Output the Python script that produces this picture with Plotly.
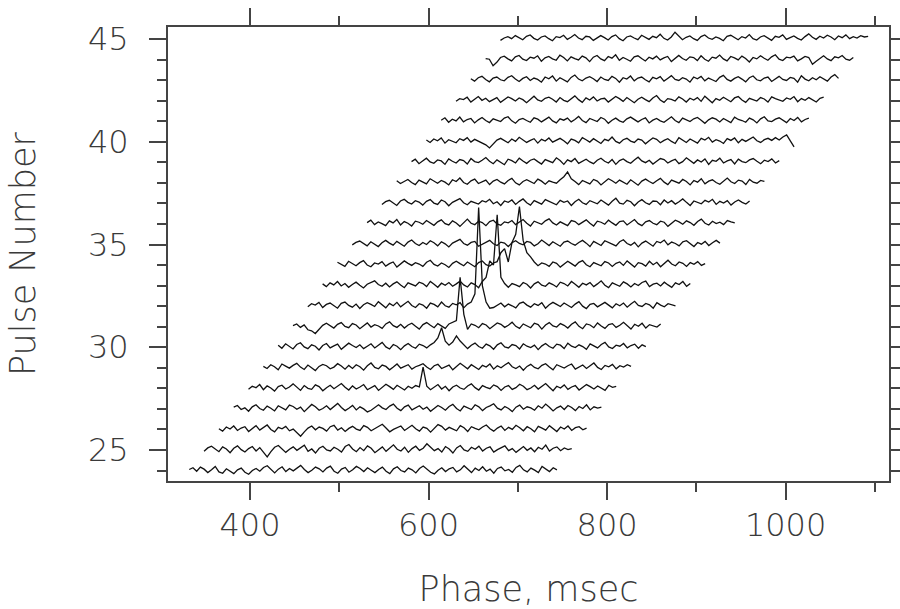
import plotly.graph_objects as go

# Pulse numbers and the phase (msec) where each pulse's window starts
pulse_numbers = list(range(24, 46))
window_start_ms = [332.0, 348.6, 365.2, 381.8, 398.4, 415.0, 431.6, 448.2, 464.8, 481.4, 498.0,
                   514.6, 531.2, 547.8, 564.4, 581.0, 597.6, 614.2, 630.8, 647.4, 664.0, 680.6]
sample_step_ms = 4.16
# intensity per sample, in units of 1/60 of the pulse-number spacing (offset from the pulse's baseline)
p24 = [3, 8, -2, 10, 4, -6, 2, 12, -4, -8, 5, -3, -9, 2, 7, -5, -11, 0, 6, -2,
       9, 14, 2, -7, 4, 11, -3, 6, -1, 8, 15, 3, -6, 1, 10, 5, -4, 7, 13, -2,
       -8, 4, 9, -5, 2, 12, 6, -3, 8, 1, -6, 3, 10, -2, -9, 5, 11, 0, -4, 7,
       2, -7, 6, 13, 4, -5, -10, 1, 8, -3, 5, 9, -4, 2, 14, 3, -6, 7, 0, 11,
       -2, 4, -8, 6, 10, -1, 3, -5, 9, 15, 2, -4, 7, 1, -6, 12, 4, -3, 8, 2]
p25 = [-4, 6, 11, 2, -5, 9, 3, -8, 5, 12, 1, -6, 4, 10, -3, 7, -6, -20, -5, 8,
       13, 4, -7, 2, 9, -1, 6, 14, -4, 3, -9, 5, 11, 0, -3, 8, 2, -6, 10, 16,
       3, -5, 7, -2, 12, 5, -8, 1, 9, -4, 6, 15, 2, -3, 8, -7, 4, 11, -1, 5,
       18, 7, -2, 4, -6, 10, 3, -9, 6, 13, 0, -4, 8, 2, 11, -3, 5, 9, -6, 1,
       7, 12, -2, 4, -7, 3, 10, -1, 6, -5, 8, 2, 14, -3, 5, 9, -2, 6, 1, 4]
p26 = [2, -5, 7, 1, 10, -3, 4, 8, -6, 3, 11, -2, 5, 13, 0, -7, 6, 2, 9, -4,
       1, -9, -20, -7, 4, 10, -1, 7, 3, -5, 8, 12, -2, 5, -6, 3, 9, 1, -3, 11,
       6, -4, 2, 8, 15, 4, -7, 0, 6, 10, -3, 5, 12, 2, -5, 7, 3, -8, 4, 14,
       9, -2, 6, 1, -4, 11, 5, -6, 8, 3, -1, 7, 13, 2, -5, 4, 10, -3, 6, 0,
       12, 5, -4, 8, 2, -7, 9, 4, -2, 11, 3, -6, 7, 1, 10, -3, 5, 8, -1, 4]
p27 = [5, 10, -2, 3, -7, 6, 12, 1, -4, 8, 2, -6, 9, 4, -3, 11, 7, -1, 5, -8,
       3, 13, 6, -4, 1, 9, -2, 7, 16, 4, -5, 2, 10, -3, 6, 0, -9, -4, 5, 12,
       3, -2, 8, 14, 2, -5, 6, 11, -3, 4, 9, -1, 5, -7, 2, 10, 4, -4, 7, 13,
       1, -6, 8, 3, -2, 12, 6, -5, 4, 9, 15, 2, -3, 7, 1, -8, 5, 11, -1, 6,
       3, -4, 9, 2, 14, 5, -6, 3, 8, -2, 10, 4, -5, 7, 1, 12, -3, 6, 2, 5]
p28 = [-3, 6, 2, 11, -4, 7, 1, -8, 5, 9, -2, 4, 13, 3, -6, 8, 0, -3, 10, 5,
       -7, 2, 9, -1, 6, 14, 3, -5, 7, -2, 4, 11, -4, 1, 8, -6, 3, 12, 5, -3,
       9, 2, -5, 6, 0, 8, 4, 62, 6, -4, 3, 11, -2, 6, -7, 4, 9, 1, -3, 7,
       13, 2, -5, 8, 3, -1, 10, 5, -6, 4, 8, -3, 2, 12, 6, -4, 1, 9, -2, 5,
       14, 3, -7, 6, 1, 10, -3, 4, 8, -5, 2, 11, 5, -2, 7, 0, -6, 9, 3, 6]
p29 = [4, -2, 9, 3, -6, 11, 5, -1, 7, 13, 2, -5, 8, 1, -8, 4, 10, 6, -3, 2,
       12, 5, -4, 7, -2, 9, 3, -7, 6, 14, 1, -3, 8, 4, -6, 2, 11, -1, 5, 9,
       -4, 3, 7, 12, 2, -5, 6, 10, -2, 4, 8, -6, 3, 13, 5, -3, 9, 1, -5, 7,
       2, 11, -4, 6, 0, 8, 15, 3, -2, 5, -7, 4, 10, 1, -3, 7, 12, 2, -6, 9,
       4, -1, 6, 11, -4, 3, 8, -2, 5, 14, 1, -5, 7, 3, 10, -3, 6, 2, 9, 4]
p30 = [6, -3, 10, 2, -5, 8, 13, 1, -4, 7, 3, -8, 5, 11, -2, 4, 9, -6, 2, 12,
       5, -1, 7, -4, 3, 10, -2, 6, 14, 1, -5, 8, 3, -7, 4, 11, 2, -3, 9, 5,
       -2, 7, 14, 27, 57, 18, 6, 15, 33, 18, 8, -4, 6, 12, 2, -3, 9, 4, -6, 7,
       13, 1, -2, 8, 5, -5, 10, 3, -1, 6, -7, 4, 11, 2, -3, 9, 6, -4, 12, 3,
       -1, 7, 2, -6, 10, 5, -2, 8, 14, 1, -4, 6, 3, 11, -2, 5, 9, -3, 7, 2]
p31 = [3, 8, -2, 5, -9, -12, -20, -8, 4, 10, 2, -4, 7, 12, 1, -3, 9, 5, -6, 3,
       11, -1, 6, 2, -5, 8, 14, 3, -2, 7, -4, 5, 10, 1, -7, 6, 12, 4, -3, 9,
       2, -5, 8, 12, 18, 144, 36, -8, 8, 4, -3, 9, 5, -6, 2, 11, 7, -2, 4, 13,
       1, -5, 8, 3, -3, 10, 6, -7, 5, 12, 2, -1, 9, 4, -4, 7, 14, 1, -6, 8,
       5, -3, 11, 2, -5, 6, 9, -2, 4, 13, 3, -7, 7, 1, 10, -4, 6, 2, -1, 8]
p32 = [-2, 7, 3, 11, -4, 5, 9, 1, -6, 8, 12, 2, -3, 6, -7, 4, 10, 5, -1, 13,
       3, -5, 8, 1, 11, -2, 6, 14, 2, -4, 7, 3, -6, 9, 5, -2, 12, 1, -3, 8,
       4, 10, -5, 6, 12, 36, 288, 60, 12, -6, -4, 3, 9, -2, 6, 1, -5, 8, 12, 3,
       -3, 7, 2, 10, -6, 4, 11, 5, -1, 9, 2, -4, 6, 13, 0, -7, 5, 8, -2, 4,
       11, 3, -5, 7, 1, 9, -3, 6, 14, 2, -1, 8, 4, -6, 10, 3, -2, 7, 5, 1]
p33 = [5, -3, 8, 2, 12, -1, 6, -5, 3, 10, 1, -7, 4, 9, 14, 3, -2, 7, -4, 5,
       11, 2, -6, 8, 3, -1, 10, 6, -3, 12, 4, -5, 7, 1, 9, -2, 5, 13, 2, -4,
       8, 3, -6, 12, 24, 72, 60, 207, 24, 6, -5, 6, 2, -3, 9, 4, -7, 5, 11, 1,
       -2, 8, 3, -4, 10, 6, -1, 12, 4, -5, 7, 2, 9, -3, 5, 14, 1, -6, 8, 3,
       -2, 11, 5, -4, 6, 0, 9, 13, -3, 4, 7, -1, 10, 2, -5, 8, 3, 12, -2, 6]
p34 = [8, 2, -4, 11, 5, -2, 7, 13, 0, -5, 6, 3, 10, -3, 4, 9, -6, 2, 12, 5,
       -1, 7, 3, -4, 8, 14, 2, -3, 6, 1, -7, 5, 11, 4, -2, 9, 3, -5, 7, 12,
       1, -3, 6, 10, 36, 48, 9, 66, 90, 171, 72, 36, 24, 9, -2, 6, 3, -4, 9, 5,
       -6, 2, 11, 4, -3, 8, 13, 1, -5, 7, 3, -2, 10, 6, -4, 5, 9, -1, 12, 2,
       -6, 7, 4, -3, 11, 1, 8, -5, 6, 14, 3, -2, 9, 5, -4, 7, 2, 10, -1, 4]
p35 = [-1, 6, 10, 3, -4, 8, 2, -6, 5, 12, 4, -2, 9, 1, -5, 7, 13, 3, -3, 6,
       0, 11, 5, -4, 8, 2, -7, 4, 10, 15, 3, -2, 6, 9, -5, 1, 8, 12, 2, -3,
       7, 4, -6, 5, 11, 3, -1, 9, 6, -4, 2, 13, 5, -3, 8, 1, -5, 7, 10, 3,
       -2, 6, 12, 4, -6, 9, 2, -3, 11, 5, 1, -4, 8, 14, 3, -2, 6, -7, 4, 10,
       2, -5, 9, 5, 13, -1, 7, 3, -4, 8, 11, 2, -6, 6, 1, 9, -3, 5, 12, 4]
p36 = [4, 11, -2, 6, 1, -5, 9, 3, 13, -3, 7, 2, -6, 8, 5, -1, 10, 4, -4, 6,
       12, 1, -3, 9, 3, -7, 5, 14, 2, -2, 8, 4, -5, 7, 11, 0, -4, 6, 3, 10,
       -2, 5, 13, 2, -6, 8, 4, -1, 9, 15, 3, -3, 6, 1, -5, 10, 7, -2, 4, 12,
       2, -6, 8, 5, -1, 11, 3, -4, 7, 9, -3, 4, 13, 1, -5, 6, 10, 2, -2, 8,
       5, -7, 3, 11, 6, -1, 9, 4, -4, 7, 14, 2, -3, 8, 1, 5, -2, 10, 6, 3]
p37 = [-3, 5, 9, 2, -6, 7, 12, 3, -2, 8, 4, -5, 6, 11, 1, -3, 10, 5, -7, 3,
       9, 14, 2, -4, 6, 1, -2, 8, 4, 12, -1, 5, -6, 7, 3, 10, -3, 6, 13, 2,
       -5, 8, 4, -2, 11, 6, 1, -4, 9, 3, 7, -6, 5, 12, 2, -3, 8, 4, -1, 10,
       3, -5, 6, 15, 1, -2, 9, 5, -7, 4, 11, 2, -3, 7, 6, -4, 10, 1, 8, -2,
       5, 13, 3, -6, 7, 2, -1, 9, 4, 12, -3, 6, 1, 8, -5, 4, 10, 3, -2, 7]
p38 = [6, -2, 4, 10, 1, -5, 8, 3, -3, 12, 5, -1, 7, 2, -6, 9, 4, 14, 1, -4,
       6, 11, -2, 3, 8, -5, 5, 10, 2, -3, 7, 13, 0, -6, 4, 9, 3, -2, 11, 5,
       -4, 6, 2, -1, 9, 18, 32, 12, 4, -5, 7, 3, -3, 10, 5, -6, 2, 12, 6, -1,
       8, 3, -4, 9, 1, -7, 5, 11, 4, -2, 6, 13, 2, -5, 8, 3, -1, 10, 4, -6,
       7, 2, 12, -3, 5, 9, 1, -4, 6, 14, 3, -2, 8, 5, -5, 10, 2, -1, 7, 4]
p39 = [2, 9, -4, 5, 12, 1, -3, 7, 4, -6, 10, 3, -2, 8, 5, -5, 11, 2, -1, 6,
       14, 3, -4, 7, 1, -7, 9, 5, -2, 12, 4, -3, 6, 10, 2, -5, 8, 3, -1, 13,
       5, -6, 7, 2, 11, -3, 4, 9, 1, -4, 6, 12, 3, -2, 8, -6, 5, 10, 2, -3,
       7, 15, 4, -1, 6, -5, 3, 11, 8, -2, 4, 9, -4, 2, 13, 5, -3, 7, 1, 10,
       -6, 6, 3, 12, -2, 4, 8, -5, 9, 2, -1, 7, 11, 3, -4, 6, 2, 10, -2, 5]
p40 = [5, -2, 8, 3, 11, -4, 6, 1, -3, 9, 4, 12, -1, 7, 2, -5, -9, -18, -6, 5,
       10, 3, -3, 8, 1, 13, 6, -2, 4, 9, -4, 7, 2, 11, -1, 5, 10, 3, -6, 8,
       4, -3, 12, 6, -1, 9, 2, -5, 7, 3, 14, 1, -4, 6, 10, 2, -2, 8, 5, -6,
       3, 11, 7, -3, 4, 9, 1, -5, 12, 6, -2, 8, 3, -4, 10, 5, 13, -1, 6, 2,
       -5, 9, 4, 11, -3, 7, 1, 8, 14, 3, -2, 6, 10, 4, 12, 5, 14, 20, 3, -15]
p41 = [3, 10, -3, 6, 1, 12, -2, 5, 8, -5, 4, 11, 2, -4, 7, 3, -1, 9, 13, 1,
       -6, 5, 8, 2, -3, 10, 6, -2, 4, 12, 1, -5, 7, 3, 9, -2, 5, 14, 2, -4,
       8, 4, -1, 11, 6, -6, 3, 9, 1, -3, 7, 12, 4, -2, 5, 10, -5, 3, 8, 1,
       -3, 6, 13, 2, -4, 9, 5, -1, 7, 11, 3, -6, 4, 10, 6, -2, 8, 1, -4, 12,
       5, 2, -3, 9, 4, -5, 7, 13, 1, -1, 6, 10, 3, -4, 8, 2, 11, -2, 5, 9]
p42 = [-2, 6, 3, 10, -4, 5, 12, 1, 7, -3, 4, 9, -5, 2, 11, 6, -1, 8, 3, -6,
       5, 13, 2, -2, 7, 10, 4, -4, 9, 1, -3, 6, 14, 3, -5, 8, 2, 11, -1, 5,
       7, -4, 3, 12, 6, -2, 9, 1, -6, 4, 10, 3, -3, 8, 15, 2, -5, 6, 4, -1,
       11, 5, -4, 7, 2, 9, -2, 13, 3, -6, 6, 1, 10, 4, -3, 8, 12, 2, -5, 7,
       3, -1, 9, 5, -4, 11, 6, 2, -2, 8, 4, 12, -3, 6, 1, 9, 3, -4, 7, 10]
p43 = [4, -3, 7, 11, 2, -5, 6, 9, 1, -2, 8, 13, 3, -4, 5, 10, -1, 6, 2, -6,
       9, 4, 12, -3, 7, 1, -5, 8, 15, 3, -2, 6, 10, 4, -4, 9, 2, -1, 11, 5,
       -6, 7, 3, 12, -2, 6, 9, 1, -5, 8, 4, 10, -3, 5, 13, 2, -1, 7, 3, -6,
       9, 4, 11, -2, 6, 1, -4, 8, 14, 2, -3, 5, 10, 3, -5, 7, 12, 1, -2, 6,
       9, -4, 4, 11, 2, -1, 8, 5, -6, 13, 3, -2, 7, 1, 10, 4, -3, 9, 16, 5]
p44 = [3, 1, -18, -8, 6, 10, 2, -4, 8, 12, 1, -3, 7, 4, 11, -5, 5, 9, 2, -2,
       13, 6, -4, 8, 3, -1, 10, 5, -6, 7, 12, 2, -3, 9, 4, 14, -2, 6, 1, -5,
       8, 11, 3, -4, 7, 2, 10, -1, 5, 9, -6, 4, 12, 3, -2, 8, 6, -3, 11, 1,
       -5, 7, 4, 13, 2, -4, 9, 5, -1, 10, 3, -7, 6, 2, 11, 4, -2, 8, 14, 1,
       -3, 7, 5, 10, -4, 2, 9, 6, -14, -5, 4, 11, 2, -3, 8, 5, 12, 1, -2, 6]
p45 = [-4, 3, 7, 1, 10, 4, -2, 8, 12, 2, -3, 6, 9, 1, -5, 7, 4, 11, -1, 5,
       13, 3, -2, 8, 6, -4, 2, 10, 4, -3, 7, 12, 1, -5, 6, 9, 3, -2, 11, 5,
       -1, 8, 4, 14, 2, -3, 6, 20, 10, -2, 5, 9, 1, -4, 7, 12, 3, -1, 6, 2,
       -5, 8, 11, 4, -2, 7, 3, 13, 1, -3, 6, 10, 2, -4, 8, 5, 12, -1, 4, 9,
       2, -3, 7, 15, 5, -1, 8, 3, 11, 6, -2, 9, 4, 12, 1, 7, 3, 10, 6, 8]

profiles = [p24, p25, p26, p27, p28, p29, p30, p31, p32, p33, p34,
            p35, p36, p37, p38, p39, p40, p41, p42, p43, p44, p45]
intensity_unit = 60.0  # profile units per pulse-number spacing

x_tick_vals = [400, 600, 800, 1000]
x_tick_text = ["400", "600", "800", "1000"]
y_tick_vals = [25, 30, 35, 40, 45]
y_tick_text = ["25", "30", "35", "40", "45"]

FONT = "DejaVu Sans ExtraLight, DejaVu Sans Light, DejaVu Sans, sans-serif"
TXT = "#3a3a3a"

fig = go.Figure()
for n, start, prof in zip(pulse_numbers, window_start_ms, profiles):
    xs = [start + i * sample_step_ms for i in range(len(prof))]
    ys = [n + v / intensity_unit for v in prof]
    fig.add_trace(go.Scatter(x=xs, y=ys, mode="lines",
                             line=dict(color="#111111", width=1.3),
                             hoverinfo="skip", showlegend=False))

axis_common = dict(
    showgrid=False, zeroline=False, automargin=False,
    showline=True, linecolor="#444444", linewidth=2, mirror="allticks",
    ticks="outside", ticklen=17, tickwidth=1.5, tickcolor="#444444",
    tickfont=dict(family=FONT, size=32, color=TXT),
)

fig.update_xaxes(
    range=[308.2, 1115.8], tickvals=x_tick_vals, ticktext=x_tick_text,
    minor=dict(dtick=100, tick0=0, ticklen=9, tickwidth=1.5, tickcolor="#444444", ticks="outside"),
    ticklabelstandoff=-2,
    title=dict(text="Phase, msec", font=dict(family=FONT, size=35, color=TXT), standoff=36),
    **axis_common)
fig.update_yaxes(
    range=[23.49, 45.585], tickvals=y_tick_vals, ticktext=y_tick_text,
    minor=dict(dtick=1, tick0=0, ticklen=9, tickwidth=1.5, tickcolor="#444444", ticks="outside"),
    ticklabelstandoff=14,
    title=dict(text="Pulse Number", font=dict(family=FONT, size=35, color=TXT), standoff=42),
    **axis_common)

fig.update_layout(
    width=900, height=609,
    margin=dict(l=168, r=11, t=27, b=128),
    paper_bgcolor="white", plot_bgcolor="white",
)

fig.write_html("out.html", config={"displayModeBar": False},
               post_script="document.body.style.margin='0px';document.body.style.overflow='hidden';")
